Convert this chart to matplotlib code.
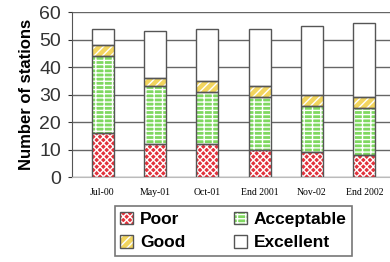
import matplotlib
matplotlib.use("Agg")
import matplotlib.pyplot as plt
from matplotlib.patches import Patch

# ---- data ----
periods = ["Jul-00", "May-01", "Oct-01", "End 2001", "Nov-02", "End 2002"]
poor = [16, 12, 12, 10, 9, 8]
acceptable = [28, 21, 19, 19, 17, 17]
good = [4, 3, 4, 4, 4, 4]
excellent = [6, 17, 19, 21, 25, 27]
yticks = [0, 10, 20, 30, 40, 50, 60]

plt.rcParams["hatch.linewidth"] = 1.0

series = [
    ("Poor", poor, "#e2323c", "xxxxx"),
    ("Acceptable", acceptable, "#7fd860", "--++"),
    ("Good", good, "#f2d55e", "////"),
    ("Excellent", excellent, "white", None),
]

fig = plt.figure(figsize=(3.9, 2.62), dpi=100)
ax = fig.add_axes([0.185, 0.324, 0.815, 0.63])

x = list(range(len(periods)))
w = 0.42
bottom = [0] * len(periods)
for name, vals, col, hatch in series:
    # filled bar with white hatch, then dark outline on top
    ax.bar(x, vals, w, bottom=bottom, color=col, edgecolor="white",
           hatch=hatch, linewidth=0, zorder=3)
    ax.bar(x, vals, w, bottom=bottom, fill=False, edgecolor="#555555",
           linewidth=1, zorder=4)
    bottom = [b + v for b, v in zip(bottom, vals)]

ax.set_xlim(-0.58, 5.49)
ax.set_ylim(0, 60)
ax.set_yticks(yticks)
ax.yaxis.grid(True, color="#666666", linewidth=1, zorder=0)
ax.set_axisbelow(True)
for s in ["top", "right"]:
    ax.spines[s].set_visible(False)
ax.spines["left"].set_color("#555555")
ax.spines["bottom"].set_color("#bbbbbb")
ax.tick_params(axis="y", labelsize=14, colors="#333333", length=3, pad=5)
ax.tick_params(axis="x", length=0, pad=8)
for lbl in ax.get_yticklabels():
    lbl.set_family("Liberation Sans")
ax.set_xticks(x)
ax.set_xticklabels(periods, fontsize=7, family="Liberation Serif")
ax.set_ylabel("Number of stations", fontsize=12, fontweight="bold",
              family="Liberation Sans", labelpad=4)

handles = []
for name, vals, col, hatch in series:
    fillp = Patch(facecolor=col, edgecolor="white", hatch=hatch, linewidth=0)
    edge = Patch(fill=False, edgecolor="#555555", linewidth=1)
    handles.append((fillp, edge))
order = [0, 2, 1, 3]
leg = fig.legend([handles[i] for i in order], [series[i][0] for i in order],
                 ncol=2, loc="center", bbox_to_anchor=(233.5 / 390, 1 - 231 / 262),
                 prop={"family": "Liberation Sans", "weight": "bold", "size": 12.5},
                 frameon=True, fancybox=False, edgecolor="#555555",
                 handlelength=0.75, handleheight=0.75, handletextpad=0.4,
                 columnspacing=2.8, labelspacing=0.45, borderpad=0.3)
leg.get_frame().set_linewidth(1.2)

fig.savefig("out.png", dpi=100)
